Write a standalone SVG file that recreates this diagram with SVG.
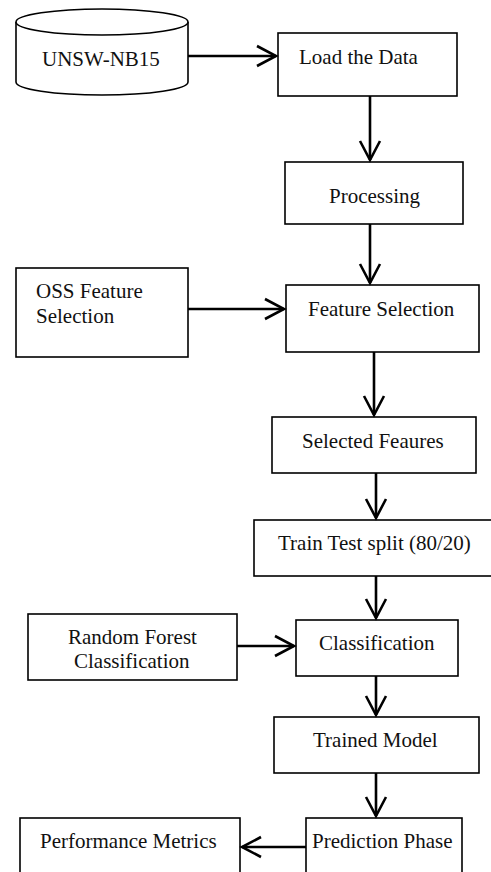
<svg xmlns="http://www.w3.org/2000/svg" width="491" height="872" viewBox="0 0 491 872">
  <style>
    .box { fill: #ffffff; stroke: #000000; stroke-width: 1.6; }
    .lbl { font-family: "Liberation Serif", "Times New Roman", serif; font-size: 21px; fill: #111111; }
    .edge { fill: none; stroke: #000000; stroke-width: 2.6; marker-end: url(#open); }
  </style>
  <defs>
    <marker id="open" markerUnits="userSpaceOnUse" viewBox="-22 -12 24 24" markerWidth="24" markerHeight="24" refX="0" refY="0" orient="auto" overflow="visible">
      <path d="M-19,-10 L0,0 L-19,10" fill="none" stroke="#000000" stroke-width="2.6" stroke-linejoin="miter"/>
    </marker>
  </defs>
  <rect width="491" height="872" fill="#ffffff"/>

  <!-- data source cylinder -->
  <g id="unsw">
    <path class="box" d="M16,22 L16,82 A86,13 0 0 0 188,82 L188,22 A86,13 0 0 0 16,22 Z"/>
    <path class="box" fill="none" d="M16,22 A86,13 0 0 0 188,22"/>
    <text class="lbl" x="42" y="66">UNSW-NB15</text>
  </g>

  <g id="load">
    <rect class="box" x="278" y="33" width="179" height="63"/>
    <text class="lbl" x="299" y="64">Load the Data</text>
  </g>

  <g id="processing">
    <rect class="box" x="285" y="162" width="178" height="62"/>
    <text class="lbl" x="329" y="203">Processing</text>
  </g>

  <g id="oss">
    <rect class="box" x="16" y="268" width="172" height="89"/>
    <text class="lbl" x="36" y="298">OSS Feature</text>
    <text class="lbl" x="36" y="323">Selection</text>
  </g>

  <g id="feature-selection">
    <rect class="box" x="286" y="285" width="193" height="67"/>
    <text class="lbl" x="308" y="316">Feature Selection</text>
  </g>

  <g id="selected">
    <rect class="box" x="272" y="417" width="204" height="56"/>
    <text class="lbl" x="302" y="448">Selected Feaures</text>
  </g>

  <g id="split">
    <rect class="box" x="254" y="520" width="240" height="56"/>
    <text class="lbl" x="278" y="550">Train Test split (80/20)</text>
  </g>

  <g id="random-forest">
    <rect class="box" x="28" y="614" width="209" height="66"/>
    <text class="lbl" x="68" y="644">Random Forest</text>
    <text class="lbl" x="74" y="668">Classification</text>
  </g>

  <g id="classification">
    <rect class="box" x="296" y="620" width="162" height="56"/>
    <text class="lbl" x="319" y="650">Classification</text>
  </g>

  <g id="trained">
    <rect class="box" x="274" y="717" width="205" height="56"/>
    <text class="lbl" x="313" y="747">Trained Model</text>
  </g>

  <g id="prediction">
    <rect class="box" x="306" y="818" width="156" height="70"/>
    <text class="lbl" x="312" y="848">Prediction Phase</text>
  </g>

  <g id="performance">
    <rect class="box" x="20" y="818" width="220" height="70"/>
    <text class="lbl" x="40" y="848">Performance Metrics</text>
  </g>

  <g id="connectors">
    <line class="edge" x1="188" y1="56" x2="276" y2="56"/>
    <line class="edge" x1="370" y1="96" x2="370" y2="160"/>
    <line class="edge" x1="370" y1="224" x2="370" y2="283"/>
    <line class="edge" x1="188" y1="309" x2="284" y2="309"/>
    <line class="edge" x1="374" y1="352" x2="374" y2="415"/>
    <line class="edge" x1="376" y1="473" x2="376" y2="518"/>
    <line class="edge" x1="376" y1="576" x2="376" y2="618"/>
    <line class="edge" x1="237" y1="646" x2="294" y2="646"/>
    <line class="edge" x1="376" y1="676" x2="376" y2="715"/>
    <line class="edge" x1="376" y1="773" x2="376" y2="816"/>
    <line class="edge" x1="306" y1="847" x2="242" y2="847"/>
  </g>
</svg>
